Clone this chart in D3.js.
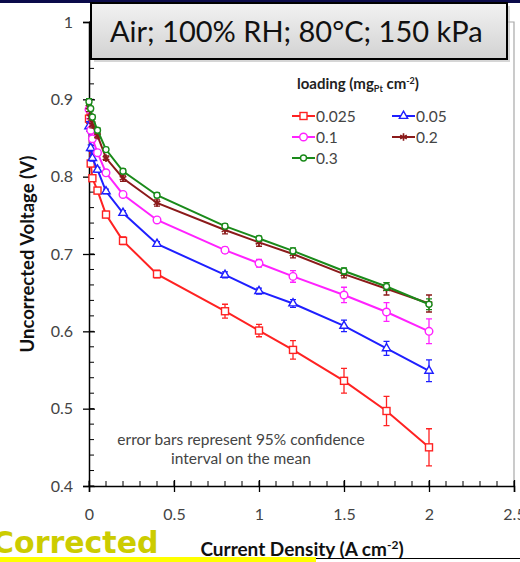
<!DOCTYPE html>
<html>
<head>
<meta charset="utf-8">
<script src="https://cdn.jsdelivr.net/npm/d3@7"></script>
<style>
  body { margin: 0; background: #fff; }
  svg { display: block; }
</style>
</head>
<body>
<div id="chart"></div>
<script>
// current density (A cm-2)
const current = [0, 0.01, 0.02, 0.05, 0.1, 0.2, 0.4, 0.8, 1.0, 1.2, 1.5, 1.75, 2.0];

// uncorrected voltage (V) for each Pt loading
const v025 = [0.875, 0.817, 0.798, 0.782, 0.751, 0.717, 0.674, 0.626, 0.601, 0.576, 0.536, 0.497, 0.450];
const v05  = [0.865, 0.837, 0.824, 0.809, 0.781, 0.753, 0.713, 0.673, 0.652, 0.636, 0.607, 0.578, 0.549];
const v1   = [0.887, 0.860, 0.849, 0.831, 0.805, 0.777, 0.744, 0.705, 0.688, 0.671, 0.647, 0.625, 0.600];
const v2   = [0.890, 0.877, 0.867, 0.853, 0.824, 0.798, 0.766, 0.731, 0.715, 0.700, 0.674, 0.655, 0.636];
const v3   = [0.897, 0.888, 0.877, 0.860, 0.835, 0.807, 0.776, 0.736, 0.720, 0.704, 0.678, 0.658, 0.635];

// 95% confidence half-widths
const e025 = [0.006, 0.004, 0.004, 0.004, 0.004, 0.005, 0.005, 0.009, 0.008, 0.012, 0.016, 0.019, 0.024];
const e05  = [0.006, 0.004, 0.004, 0.003, 0.003, 0.003, 0.003, 0.004, 0.004, 0.005, 0.0075, 0.009, 0.014];
const e1   = [0.012, 0.004, 0.004, 0.003, 0.003, 0.003, 0.003, 0.004, 0.005, 0.0075, 0.010, 0.012, 0.016];
const e2   = [0.006, 0.004, 0.004, 0.003, 0.003, 0.004, 0.004, 0.005, 0.005, 0.005, 0.005, 0.008, 0.011];
const e3   = [0.004, 0.003, 0.003, 0.003, 0.003, 0.003, 0.003, 0.003, 0.003, 0.004, 0.004, 0.005, 0.007];

const loadings = ["0.025", "0.05", "0.1", "0.2", "0.3"];
const xTicks = [0, 0.5, 1, 1.5, 2, 2.5];
const yTicks = [0.4, 0.5, 0.6, 0.7, 0.8, 0.9, 1];

const series = [
    { name: loadings[0], v: v025, e: e025, color: "#ff2222", marker: "square" },
    { name: loadings[1], v: v05,  e: e05,  color: "#1f1fff", marker: "triangle" },
    { name: loadings[2], v: v1,   e: e1,   color: "#ff22ff", marker: "circle" },
    { name: loadings[3], v: v2,   e: e2,   color: "#8b1a1a", marker: "star" },
    { name: loadings[4], v: v3,   e: e3,   color: "#1a8a1a", marker: "smallcircle" }
];

const W = 520, H = 562;
const svg = d3.select("#chart").append("svg")
    .attr("width", W)
    .attr("height", H)
    .style("font-family", "Lato, 'Open Sans', sans-serif");

const x = d3.scaleLinear().domain([0, 2.5]).range([89, 514]);
const y = d3.scaleLinear().domain([0.4, 1]).range([486, 22]);

// slide header strip
svg.append("rect").attr("x", 0).attr("y", 0).attr("width", W).attr("height", 3).attr("fill", "#0b0b4a");

// plot frame (top / right)
svg.append("path")
    .attr("d", `M${x(0)},${y(1)}H${x(2.5)}V${y(0.4)}`)
    .attr("fill", "none").attr("stroke", "#a8a8a8").attr("stroke-width", 1.2);

// minor ticks
const yMinor = d3.range(0.4, 1.0001, 0.02);
svg.append("g").selectAll("line").data(yMinor).join("line")
    .attr("x1", x(0)).attr("x2", x(0) + 5)
    .attr("y1", d => y(d)).attr("y2", d => y(d))
    .attr("stroke", "#000").attr("stroke-width", 1);
const xMinor = d3.range(0, 2.5001, 0.1);
svg.append("g").selectAll("line").data(xMinor).join("line")
    .attr("x1", d => x(d)).attr("x2", d => x(d))
    .attr("y1", y(0.4)).attr("y2", y(0.4) - 5)
    .attr("stroke", "#000").attr("stroke-width", 1);

// axes
const yAxis = svg.append("g")
    .attr("transform", `translate(${x(0)},0)`)
    .call(d3.axisLeft(y).tickValues(yTicks).tickFormat(d => d === 1 ? "1" : d3.format(".1f")(d)).tickSize(6).tickPadding(10));
const xAxis = svg.append("g")
    .attr("transform", `translate(0,${y(0.4)})`)
    .call(d3.axisBottom(x).tickValues(xTicks).tickFormat(d => d3.format("")(d)).tickSize(6).tickPadding(17));

[yAxis, xAxis].forEach(g => {
    g.select(".domain").attr("stroke", "#000").attr("stroke-width", 1.5);
    g.selectAll(".tick line").attr("stroke", "#000").attr("stroke-width", 1.3);
    g.selectAll(".tick text").attr("fill", "#444").attr("font-size", 16).attr("font-family", "Lato, sans-serif");
});
// major ticks cross the axis
yAxis.selectAll(".tick line").attr("x1", 6);
xAxis.selectAll(".tick line").attr("y1", -6);

// axis titles
svg.append("text")
    .attr("transform", `translate(34,${(y(0.4) + y(1)) / 2}) rotate(-90)`)
    .attr("text-anchor", "middle")
    .attr("font-size", 18.5).attr("font-weight", "bold").attr("fill", "#111")
    .text("Uncorrected Voltage (V)");

const xt = svg.append("text")
    .attr("x", 302).attr("y", 556)
    .attr("text-anchor", "middle")
    .attr("font-size", 19).attr("font-weight", "bold").attr("fill", "#111");
xt.append("tspan").text("Current Density (A cm");
xt.append("tspan").attr("font-size", 12).attr("dy", -7).text("-2");
xt.append("tspan").attr("dy", 7).text(")");

// markers
function marker(g, type, color) {
    if (type === "square") {
        g.append("rect").attr("x", -3.5).attr("y", -3.5).attr("width", 7).attr("height", 7)
            .attr("fill", "#fff").attr("stroke", color).attr("stroke-width", 1.4);
    } else if (type === "triangle") {
        g.append("path").attr("d", d3.symbol(d3.symbolTriangle, 30)())
            .attr("fill", "#fff").attr("stroke", color).attr("stroke-width", 1.4);
    } else if (type === "circle") {
        g.append("circle").attr("r", 3.8)
            .attr("fill", "#fff").attr("stroke", color).attr("stroke-width", 1.4);
    } else if (type === "smallcircle") {
        g.append("circle").attr("r", 3)
            .attr("fill", "#fff").attr("stroke", color).attr("stroke-width", 1.4);
    } else {
        g.append("path").attr("d", d3.symbol(d3.symbolAsterisk, 40)())
            .attr("fill", "none").attr("stroke", color).attr("stroke-width", 1.6);
    }
}

const line = d3.line().x(d => x(d[0])).y(d => y(d[1]));

series.forEach(s => {
    const pts = current.map((c, i) => [c, s.v[i], s.e[i]]);
    const g = svg.append("g");
    g.append("path").datum(pts).attr("d", line)
        .attr("fill", "none").attr("stroke", s.color).attr("stroke-width", 2);
    // error bars
    g.selectAll(".eb").data(pts).join("path")
        .attr("d", d => {
            const cx = x(d[0]), t = y(d[1] + d[2]), b = y(d[1] - d[2]);
            return `M${cx - 3},${t}H${cx + 3}M${cx},${t}V${b}M${cx - 3},${b}H${cx + 3}`;
        })
        .attr("fill", "none").attr("stroke", s.color).attr("stroke-width", 1.3);
    g.selectAll(".pt").data(pts).join("g")
        .attr("transform", d => `translate(${x(d[0])},${y(d[1])})`)
        .each(function () { marker(d3.select(this), s.marker, s.color); });
});

// legend
const lg = svg.append("g").attr("fill", "#444");
const lt = lg.append("text").attr("x", 297).attr("y", 89)
    .attr("font-size", 15).attr("font-weight", "bold").attr("fill", "#222");
lt.append("tspan").text("loading (mg");
lt.append("tspan").attr("font-size", 9).attr("dy", 3).text("Pt");
lt.append("tspan").attr("dy", -3).text(" cm");
lt.append("tspan").attr("font-size", 9).attr("dy", -5).text("-2");
lt.append("tspan").attr("dy", 5).text(")");

const legendPos = [[292, 116], [392, 116], [292, 137], [392, 137], [292, 158]];
series.forEach((s, i) => {
    const [lx, ly] = legendPos[i];
    const g = lg.append("g").attr("transform", `translate(${lx},${ly})`);
    g.append("line").attr("x1", 0).attr("x2", 23).attr("stroke", s.color).attr("stroke-width", 2);
    marker(g.append("g").attr("transform", "translate(11.5,0)"), s.marker, s.color);
    g.append("text").attr("x", 24).attr("y", 5.5).attr("font-size", 15.5).attr("fill", "#444").text(s.name);
});

// note
const note = svg.append("text").attr("text-anchor", "middle").attr("font-size", 15.5).attr("fill", "#444");
note.append("tspan").attr("x", 241).attr("y", 445).text("error bars represent 95% confidence");
note.append("tspan").attr("x", 241).attr("y", 464).text("interval on the mean");

// title box
const defs = svg.append("defs");
const grad = defs.append("linearGradient").attr("id", "tg").attr("x1", 0).attr("y1", 0).attr("x2", 0).attr("y2", 1);
grad.append("stop").attr("offset", "0%").attr("stop-color", "#f2f2f2");
grad.append("stop").attr("offset", "100%").attr("stop-color", "#d2d2d2");
svg.append("rect").attr("x", 94).attr("y", 6).attr("width", 416).attr("height", 56).attr("fill", "#bbb").attr("opacity", 0.6);
svg.append("rect").attr("x", 91).attr("y", 3).attr("width", 416).attr("height", 56)
    .attr("fill", "url(#tg)").attr("stroke", "#000").attr("stroke-width", 2);
svg.append("text").attr("x", 110).attr("y", 42)
    .attr("font-size", 29).attr("fill", "#111")
    .text("Air; 100% RH; 80°C; 150 kPa");

// "Corrected" label and slide underline
svg.append("text").attr("x", -8).attr("y", 553)
    .attr("font-family", "'DejaVu Sans', sans-serif").attr("font-weight", "bold")
    .attr("font-size", 30).attr("fill", "#cccc00")
    .text("Corrected");
svg.append("rect").attr("x", 0).attr("y", 557).attr("width", 316).attr("height", 5).attr("fill", "#ffff00");
svg.append("line").attr("x1", 316).attr("x2", W).attr("y1", 558.5).attr("y2", 558.5).attr("stroke", "#000").attr("stroke-width", 1.2);
</script>
</body>
</html>
